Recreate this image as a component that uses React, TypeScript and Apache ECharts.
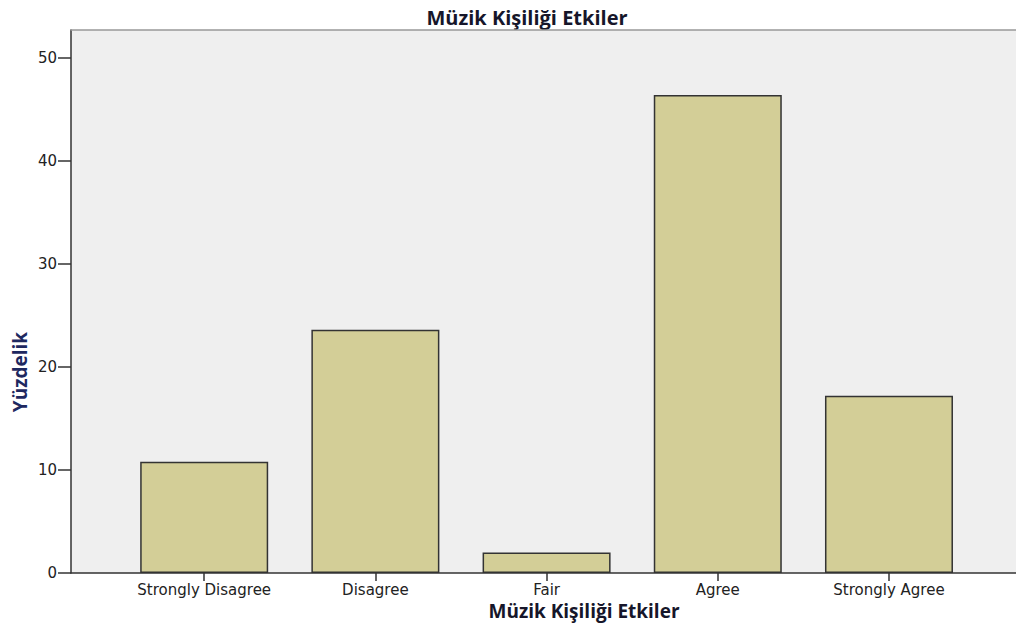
import React, { useEffect, useRef } from "react";
import * as echarts from "echarts";

const categories = ["Strongly Disagree", "Disagree", "Fair", "Agree", "Strongly Agree"];
const percents = [10.8, 23.6, 2.0, 46.4, 17.2];
const yTicks = [0, 10, 20, 30, 40, 50];
const titleText = "Müzik Kişiliği Etkiler";
const xName = "Müzik Kişiliği Etkiler";
const yName = "Yüzdelik";

export default function App() {
  const ref = useRef<HTMLDivElement>(null);
  useEffect(() => {
    if (!ref.current) return;
    const chart = echarts.init(ref.current, null, { renderer: "svg" });
    const idx = categories.map((_, i) => i);
    const labelFont = { fontFamily: "DejaVu Sans", fontSize: 15, color: "#222" };
    chart.setOption({
      animation: false,
      backgroundColor: "#ffffff",
      grid: {
        left: 71,
        right: 0,
        top: 30,
        bottom: 51,
        show: true,
        backgroundColor: "#efefef",
        borderWidth: 0,
      },
      xAxis: [
        {
          type: "value",
          min: -0.778,
          max: 4.742,
          splitLine: { show: false },
          axisLine: { show: true, onZero: false, lineStyle: { color: "#333", width: 1.5 } },
          axisTick: {
            show: true,
            length: 8,
            customValues: idx,
            lineStyle: { color: "#333", width: 1.5 },
          },
          axisLabel: {
            customValues: idx,
            margin: 9,
            lineHeight: 15,
            ...labelFont,
            formatter: (v: number) => categories[Math.round(v)] ?? "",
          },
        },
        {
          type: "value",
          position: "top",
          min: -0.778,
          max: 4.742,
          splitLine: { show: false },
          axisLine: { show: true, onZero: false, lineStyle: { color: "#999", width: 1.5 } },
          axisTick: { show: false },
          axisLabel: { show: false },
        },
      ],
      yAxis: {
        type: "value",
        min: 0,
        max: 52.7,
        interval: 10,
        splitLine: { show: false },
        axisLine: { show: true, onZero: false, lineStyle: { color: "#333", width: 1.5 } },
        axisTick: {
          show: true,
          length: 13,
          customValues: yTicks,
          lineStyle: { color: "#333", width: 1.5 },
        },
        axisLabel: {
          customValues: yTicks,
          margin: 14,
          ...labelFont,
        },
      },
      graphic: [
        {
          type: "text",
          x: 527,
          y: 17,
          style: {
            text: titleText,
            textAlign: "center",
            textVerticalAlign: "middle",
            font: "bold 20px 'Open Sans'",
            fill: "#16162a",
          },
        },
        {
          type: "text",
          x: 584,
          y: 611,
          style: {
            text: xName,
            textAlign: "center",
            textVerticalAlign: "middle",
            font: "bold 19px 'Open Sans'",
            fill: "#16162a",
          },
        },
        {
          type: "text",
          x: 20,
          y: 372,
          rotation: Math.PI / 2,
          style: {
            text: yName,
            textAlign: "center",
            textVerticalAlign: "middle",
            font: "bold 19px 'Open Sans'",
            fill: "#1e2860",
          },
        },
      ],
      series: [
        {
          type: "bar",
          xAxisIndex: 0,
          barWidth: 128,
          data: percents.map((v, i) => [i, v]),
          itemStyle: { color: "#d3ce97", borderColor: "#333", borderWidth: 1.5 },
        },
      ],
    });
    return () => chart.dispose();
  }, []);
  return (
    <div
      ref={ref}
      style={{ position: "absolute", left: 0, top: 0, width: 1016, height: 624 }}
    />
  );
}
